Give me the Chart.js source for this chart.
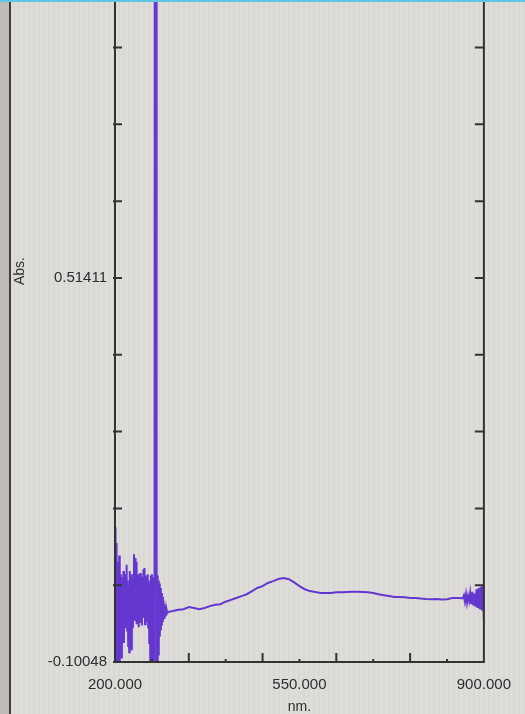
<!DOCTYPE html>
<html>
<head>
<meta charset="utf-8">
<script src="https://cdn.jsdelivr.net/npm/chart.js@4.4.1/dist/chart.umd.min.js"></script>
<style>
  html, body { margin: 0; padding: 0; overflow: hidden; }
  body {
    background: repeating-linear-gradient(90deg, #dfddd9 0px, #dfddd9 3px, #dad8d4 3px, #dad8d4 5px);
  }
  #wrap { position: relative; width: 525px; height: 714px; }
  #edge { position: absolute; left: 0; top: 0; width: 9px; height: 714px; background: #bdbab8; border-right: 2px solid #3d3d3d; }
  #topline { position: absolute; left: 0; top: 0; width: 525px; height: 2px; background: #5fc6e2; }
  canvas { position: absolute; left: 0; top: 0; }
</style>
</head>
<body>
<div id="wrap">
  <div id="edge"></div>
  <canvas id="spectrum" width="525" height="714"></canvas>
  <div id="topline"></div>
</div>
<script>
// Spectrum (nm vs Abs.)
const wavelengths = [
  200, 201, 202, 203, 204, 205, 206, 207, 208, 209,
  210, 211, 212, 213, 214, 215, 216, 217, 218, 219,
  220, 221, 222, 223, 224, 225, 226, 227, 228, 229,
  230, 231, 232, 233, 234, 235, 236, 237, 238, 239,
  240, 241, 242, 243, 244, 245, 246, 247, 248, 249,
  250, 251, 252, 253, 254, 255, 256, 257, 258, 259,
  260, 261, 262, 263, 264, 265, 266, 267, 268, 269,
  270, 271, 272, 273, 274, 275, 276, 277, 278, 279,
  280, 281, 282, 283, 284, 285, 286, 287, 288, 289,
  290, 291, 292, 293, 294, 295, 296, 297, 298, 299,
  300, 310, 320, 330, 340, 350, 360, 370, 380, 390,
  400, 410, 420, 430, 440, 450, 460, 470, 480, 490,
  500, 510, 520, 530, 540, 550, 560, 570, 580, 590,
  600, 610, 620, 630, 640, 650, 660, 670, 680, 690,
  700, 710, 720, 730, 740, 750, 760, 770, 780, 790,
  800, 810, 820, 830, 840, 850, 860,
  862, 864, 866, 868, 870, 872, 874, 876, 878, 880,
  882, 884, 886, 888, 890, 892, 894, 896, 898, 900
];
const absorbance = [
  0.115, -0.110, 0.090, -0.105, 0.060, -0.112, 0.045, -0.085, 0.070, -0.110,
  0.040, -0.060, 0.035, -0.095, 0.030, -0.040, 0.045, -0.070, 0.025, -0.045,
  0.040, -0.030, 0.055, -0.050, 0.030, -0.075, 0.020, -0.085, 0.045, -0.060,
  0.035, -0.080, 0.040, -0.045, 0.030, -0.030, 0.072, -0.035, 0.066, -0.020,
  0.060, -0.040, 0.038, -0.025, 0.040, -0.045, 0.030, -0.038, 0.042, -0.020,
  0.036, -0.042, 0.035, -0.030, 0.048, -0.015, 0.050, -0.040, 0.038, -0.035,
  0.034, -0.030, 0.040, -0.045, 0.030, -0.070, 0.025, -0.110, 0.038, -0.110,
  0.040, -0.090, 0.035, -0.112, 0.030, -0.110, 2.5, 2.5, 2.5, -0.112,
  0.038, -0.105, 0.030, -0.090, 0.025, -0.060, 0.018, -0.050, 0.010, -0.042,
  0.004, -0.036, -0.002, -0.030, -0.008, -0.026, -0.013, -0.024, -0.017, -0.021,
  -0.0205, -0.019, -0.017, -0.016, -0.0125, -0.014, -0.016, -0.014, -0.011, -0.009,
  -0.008, -0.004, -0.001, 0.002, 0.005, 0.008, 0.013, 0.018, 0.021, 0.026,
  0.029, 0.0323, 0.034, 0.032, 0.027, 0.021, 0.016, 0.013, 0.0115, 0.010,
  0.010, 0.010, 0.011, 0.011, 0.0115, 0.012, 0.012, 0.0115, 0.011, 0.010,
  0.008, 0.0065, 0.005, 0.0035, 0.0035, 0.003, 0.002, 0.002, 0.001, 0.0003,
  0.0, 0.0003, -0.0005, 0.0, 0.002, 0.002, 0.0015,
  0.006, -0.004, 0.008, -0.006, 0.005, -0.003, 0.010, -0.008, 0.012, -0.010,
  0.009, -0.012, 0.016, -0.014, 0.018, -0.016, 0.020, -0.018, 0.024, -0.033
];

// Axis ticks
const yTickValues = [-0.10048, 0.02244, 0.14536, 0.26827, 0.39119, 0.51411, 0.63703, 0.75995, 0.88287];
const yTickLabels = ['-0.10048', '', '', '', '', '0.51411', '', '', ''];
const xTickValues = [200, 270, 340, 410, 480, 550, 620, 690, 760, 830, 900];
const xTickLabels = ['200.000', '', '', '', '', '550.000', '', '', '', '', '900.000'];
const xMajorTicks = [200, 340, 480, 620, 760, 900];
const xTitle = 'nm.';
const yTitle = 'Abs.';

const yMin = -0.10048;
const yMax = 0.959;   // top of the plot is cut off by the photo

const axisColor = '#333333';
const textColor = '#2e2e2e';
const labelFont = { family: "'Liberation Sans', Arial, sans-serif", size: 15 };

// Frame, inward ticks and the rotated "Abs." label
const framePlugin = {
    id: 'frame',
    afterDatasetsDraw(chart) {
        const { ctx, chartArea: a, scales: { x, y } } = chart;
        ctx.save();
        ctx.strokeStyle = axisColor;
        ctx.lineWidth = 2;
        ctx.beginPath();
        ctx.moveTo(a.left, a.top);
        ctx.lineTo(a.left, a.bottom);
        ctx.lineTo(a.right, a.bottom);
        ctx.lineTo(a.right, a.top);
        yTickValues.forEach(v => {
            const py = y.getPixelForValue(v);
            ctx.moveTo(a.left - 2, py);
            ctx.lineTo(a.left + 7, py);
            ctx.moveTo(a.right - 9, py);
            ctx.lineTo(a.right, py);
        });
        xTickValues.forEach(v => {
            const px = x.getPixelForValue(v);
            const len = xMajorTicks.includes(v) ? 9 : 3;
            ctx.moveTo(px, a.bottom);
            ctx.lineTo(px, a.bottom - len);
        });
        ctx.stroke();

        ctx.translate(20, 271);
        ctx.rotate(-Math.PI / 2);
        ctx.font = "14px 'Liberation Sans', Arial, sans-serif";
        ctx.fillStyle = textColor;
        ctx.textAlign = 'center';
        ctx.textBaseline = 'middle';
        ctx.fillText(yTitle, 0, 0);
        ctx.restore();
    }
};

new Chart(document.getElementById('spectrum'), {
    type: 'line',
    data: {
        datasets: [{
            data: wavelengths.map((nm, i) => ({ x: nm, y: absorbance[i] })),
            borderColor: '#6437d0',
            borderWidth: 2,
            pointRadius: 0,
            tension: 0,
            fill: false
        }]
    },
    options: {
        responsive: false,
        animation: false,
        layout: { padding: { left: 12, right: 31, top: 0, bottom: 0 } },
        plugins: {
            legend: { display: false },
            tooltip: { enabled: false }
        },
        scales: {
            x: {
                type: 'linear',
                min: 200,
                max: 900,
                border: { display: false },
                grid: { display: false, drawTicks: false },
                afterBuildTicks: scale => { scale.ticks = xTickValues.map(v => ({ value: v })); },
                afterFit: scale => { scale.height = 52; },
                ticks: {
                    autoSkip: false,
                    maxRotation: 0,
                    padding: 14,
                    color: textColor,
                    font: labelFont,
                    callback: (value, index) => xTickLabels[index]
                },
                title: {
                    display: true,
                    text: xTitle,
                    color: textColor,
                    font: { family: labelFont.family, size: 14 },
                    padding: { top: 0, bottom: -2 }
                }
            },
            y: {
                min: yMin,
                max: yMax,
                border: { display: false },
                grid: { display: false, drawTicks: false },
                afterBuildTicks: scale => { scale.ticks = yTickValues.map(v => ({ value: v })); },
                afterFit: scale => {
                    scale.width = 103;
                    scale.paddingTop = 0;
                    scale.paddingBottom = 0;
                },
                ticks: {
                    padding: 8,
                    color: textColor,
                    font: labelFont,
                    callback: (value, index) => yTickLabels[index]
                }
            }
        }
    },
    plugins: [framePlugin]
});
</script>
</body>
</html>
